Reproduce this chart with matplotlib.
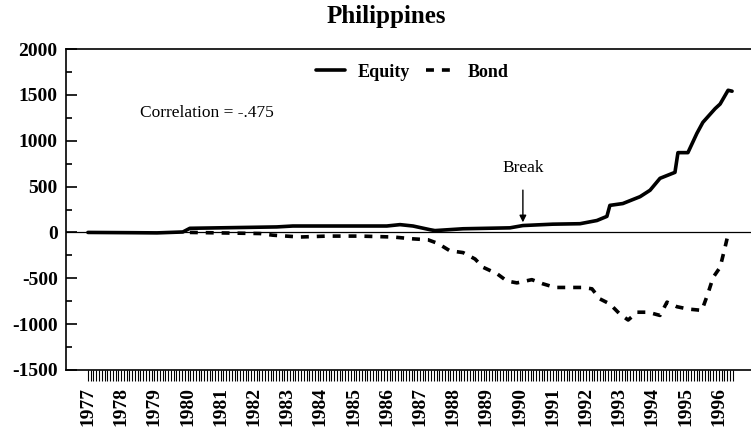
import matplotlib
matplotlib.use('Agg')
import matplotlib.pyplot as plt
from matplotlib.ticker import FixedLocator, MultipleLocator

plt.rcParams['font.family'] = ['Liberation Serif', 'DejaVu Serif']
plt.rcParams['axes.unicode_minus'] = False

# Equity series (decimal year, value)
equity_x = [1977.0, 1978.36, 1979.08, 1979.86, 1980.07, 1982.69, 1983.17, 1986.0,
            1986.4, 1986.79, 1987.3, 1987.45, 1988.3, 1989.71, 1990.1, 1991.0,
            1991.82, 1992.33, 1992.63, 1992.72, 1993.11, 1993.63, 1993.93, 1994.23,
            1994.68, 1994.77, 1995.07, 1995.34, 1995.52, 1995.89, 1996.04, 1996.28,
            1996.4]
equity_y = [0, -3, -5, 5, 45, 60, 70, 70,
            85, 70, 30, 20, 40, 50, 75, 90,
            95, 130, 175, 295, 315, 390, 460, 590,
            655, 870, 870, 1080, 1200, 1350, 1400, 1550,
            1540]

# Bond series
bond_x = [1980.07, 1982.18, 1982.57, 1983.39, 1984.2, 1985.19, 1986.19, 1986.79,
          1987.24, 1987.54, 1987.9, 1988.3, 1988.66, 1988.9, 1989.32, 1989.62,
          1989.92, 1990.37, 1990.7, 1991.07, 1991.61, 1991.91, 1992.18, 1992.42,
          1992.72, 1993.02, 1993.27, 1993.54, 1993.87, 1994.23, 1994.44, 1994.74,
          1995.07, 1995.49, 1995.67, 1995.83, 1996.04, 1996.19, 1996.28, 1996.37]
bond_y = [0, -12, -30, -50, -40, -40, -50, -70,
          -80, -120, -200, -220, -290, -380, -450, -530,
          -550, -515, -560, -600, -600, -600, -615, -725,
          -780, -890, -955, -870, -870, -905, -760, -810,
          -835, -850, -670, -490, -380, -160, -20, -5]

years = list(range(1977, 1997))

fig = plt.figure(figsize=(7.51, 4.33), dpi=100)
ax = fig.add_axes([66 / 751, 1 - 370 / 433, 1 - 66 / 751, (370 - 49) / 433])

ax.plot(equity_x, equity_y, color='black', lw=2.6, label='Equity', solid_capstyle='round')
ax.plot(bond_x, bond_y, color='black', lw=2.6, ls=(0, (2.2, 2.2)), label='Bond')
ax.axhline(0, color='black', lw=0.9)

ax.set_xlim(1976.34, 1996.97)
ax.set_ylim(-1500, 2000)

ax.spines['right'].set_visible(False)
for s in ['left', 'bottom', 'top']:
    ax.spines[s].set_linewidth(1.2)

ax.yaxis.set_major_locator(MultipleLocator(500))
ax.yaxis.set_minor_locator(MultipleLocator(250))
ax.tick_params(axis='y', which='major', direction='in', length=8, width=1.2, pad=6)
ax.tick_params(axis='y', which='minor', direction='in', length=4, width=1.2)
for lab in ax.get_yticklabels():
    lab.set_fontweight('bold')
    lab.set_fontsize(14)

ax.xaxis.set_major_locator(FixedLocator(years))
ax.set_xticklabels([str(y) for y in years], rotation=90, fontweight='bold', fontsize=14)
ax.xaxis.set_minor_locator(FixedLocator([1977 + i / 12 for i in range(234)]))
ax.tick_params(axis='x', which='both', direction='out', length=8, width=0.8, pad=4)

ax.legend(loc='upper center', bbox_to_anchor=(0.505, 1.005), ncol=2, frameon=False,
          prop={'weight': 'bold', 'size': 13}, handlelength=1.6, columnspacing=0.9,
          handletextpad=0.7)

ax.text(1978.57, 1300, 'Correlation = -.475', fontsize=12.5, va='center', ha='left')
ax.annotate('Break', xy=(1990.1, 110), xytext=(1990.1, 700),
            ha='center', va='center', fontsize=12.5,
            arrowprops=dict(arrowstyle='-|>', color='black', lw=1, shrinkA=8, shrinkB=0,
                            mutation_scale=10))

fig.text(386 / 751, 1 - 16 / 433, 'Philippines', ha='center', va='center',
         fontsize=18, fontweight='bold')

fig.savefig('out.png', dpi=100)
